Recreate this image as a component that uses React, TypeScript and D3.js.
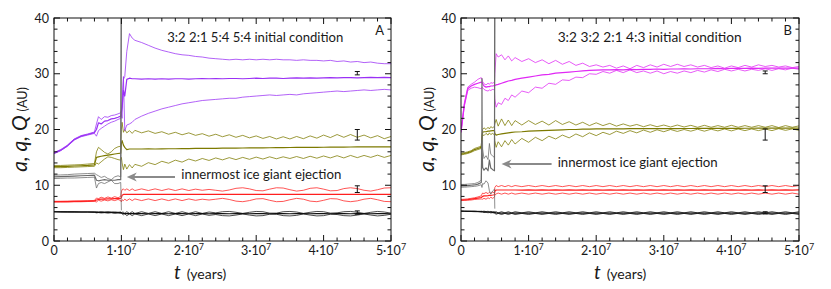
import * as d3 from 'd3';

// time axis in units of 10^6 years
const timeA = [0, 1, 2, 3, 4, 5, 6, 6.3, 6.6, 7, 7.5, 8, 8.5, 9, 9.5, 9.9, 10, 10.1, 10.3, 10.5, 10.8, 11.2, 11.6,
  12, 13, 14, 15, 16, 17, 18, 19, 20, 21, 22, 23, 24, 25, 26, 27, 28, 29, 30, 31, 32, 33, 34, 35, 36, 37, 38, 39, 40,
  41, 42, 43, 44, 45, 46, 47, 48, 49, 50];

const timeB = [0, 0.5, 1, 1.5, 2, 2.5, 3, 3.1, 3.2, 3.4, 3.7, 4, 4.2, 4.4, 4.7, 4.95, 5, 5.2, 5.5, 6, 6.5, 7, 7.5, 8,
  9, 10, 11, 12, 13, 14, 15, 16, 17, 18, 19, 20, 21, 22, 23, 24, 25, 26, 27, 28, 29, 30, 31, 32, 33, 34, 35, 36, 37,
  38, 39, 40, 41, 42, 43, 44, 45, 46, 47, 48, 49, 50];

// ---- panel A : 3:2 2:1 5:4 5:4 ----
const jupA_Q = [5.28, 5.27, 5.25, 5.24, 5.23, 5.23, 5.22, 5.25, 5.2, 5.25, 5.18, 5.24, 5.17, 5.22, 5.16, 5.2, 5.1, 5.15, 5.2, 4.95, 5.25, 4.95, 5.25,
  4.95, 5.25, 4.95, 5.25, 4.95, 5.25, 4.95, 5.25, 4.95, 5.25, 4.95, 5.2, 5.05, 5.25, 5.3, 5.15, 4.95, 5.15, 5.3, 5.25,
  5.0, 5.0, 5.25, 5.3, 5.2, 4.95, 5.15, 5.3, 5.25, 5.0, 5.05, 5.25, 5.3, 5.15, 4.95, 5.15, 5.3, 5.2, 5.0];
const jupA_a = [5.25, 5.24, 5.22, 5.21, 5.2, 5.2, 5.18, 5.15, 5.15, 5.14, 5.13, 5.12, 5.12, 5.1, 5.1, 5.08, 5.05, 5.0, 4.95, 4.92, 4.9, 4.9, 4.9,
  4.9, 4.9, 4.89, 4.9, 4.9, 4.89, 4.9, 4.9, 4.89, 4.9, 4.9, 4.89, 4.9, 4.9, 4.89, 4.9, 4.9, 4.89, 4.9, 4.9,
  4.89, 4.9, 4.9, 4.89, 4.9, 4.9, 4.89, 4.9, 4.9, 4.89, 4.9, 4.9, 4.89, 4.9, 4.9, 4.89, 4.9, 4.9, 4.89];
const jupA_q = [5.22, 5.21, 5.19, 5.18, 5.17, 5.17, 5.14, 5.05, 5.1, 5.03, 5.08, 5.0, 5.07, 4.98, 5.04, 4.96, 5.0, 4.85, 4.7, 4.89, 4.55, 4.85, 4.55,
  4.85, 4.55, 4.85, 4.55, 4.85, 4.55, 4.85, 4.55, 4.85, 4.55, 4.85, 4.6, 4.75, 4.55, 4.5, 4.65, 4.85, 4.65, 4.5, 4.55,
  4.8, 4.8, 4.55, 4.5, 4.6, 4.85, 4.65, 4.5, 4.55, 4.8, 4.75, 4.55, 4.5, 4.65, 4.85, 4.65, 4.5, 4.6, 4.8];

const satA_Q = [7.12, 7.13, 7.15, 7.17, 7.2, 7.22, 7.28, 7.7, 7.6, 7.85, 7.65, 7.9, 7.7, 7.95, 7.75, 8.0, 8.8, 9.2, 9.35, 9.1, 9.35, 9.05, 9.35,
  9.05, 9.35, 9.05, 9.35, 9.05, 9.35, 9.05, 9.35, 9.05, 9.3, 9.1, 9.25, 9.1, 8.95, 9.15, 9.45, 9.55, 9.35, 9.05, 9.0,
  9.3, 9.55, 9.5, 9.2, 8.95, 9.1, 9.45, 9.55, 9.3, 9.0, 9.05, 9.4, 9.55, 9.4, 9.1, 8.95, 9.2, 9.5, 9.55];
const satA_a = [7.05, 7.07, 7.08, 7.1, 7.12, 7.15, 7.2, 7.35, 7.45, 7.5, 7.5, 7.55, 7.55, 7.6, 7.6, 7.62, 7.8, 8.2, 8.35, 8.35, 8.35, 8.35, 8.35,
  8.35, 8.36, 8.35, 8.36, 8.35, 8.36, 8.35, 8.36, 8.35, 8.36, 8.35, 8.36, 8.35, 8.36, 8.35, 8.36, 8.35, 8.36, 8.35, 8.36,
  8.35, 8.36, 8.35, 8.36, 8.35, 8.36, 8.35, 8.36, 8.35, 8.36, 8.35, 8.36, 8.35, 8.36, 8.35, 8.36, 8.35, 8.36, 8.35];
const satA_q = [6.98, 7.0, 7.01, 7.03, 7.04, 7.08, 7.12, 7.0, 7.3, 7.15, 7.35, 7.2, 7.4, 7.25, 7.45, 7.25, 7.0, 7.4, 7.25, 7.5, 7.25, 7.55, 7.25,
  7.55, 7.25, 7.55, 7.25, 7.55, 7.25, 7.55, 7.25, 7.55, 7.3, 7.5, 7.35, 7.5, 7.65, 7.45, 7.15, 7.05, 7.25, 7.55, 7.6,
  7.3, 7.05, 7.1, 7.4, 7.65, 7.5, 7.15, 7.05, 7.3, 7.6, 7.55, 7.2, 7.05, 7.2, 7.5, 7.65, 7.4, 7.1, 7.05];

// ejected ice giant: data stops at 1e7 yr
const ejA_Q = [11.8, 11.85, 11.9, 12.0, 12.05, 12.1, 12.15, 11.9, 11.7, 11.4, 11.6, 11.2, 11.0, 11.5, 11.7, 11.5, 48];
const ejA_a = [11.5, 11.55, 11.6, 11.65, 11.7, 11.75, 11.8, 10.9, 10.8, 10.9, 11.0, 10.9, 10.9, 10.9, 11.0, 11.0, 48];
const ejA_q = [11.2, 11.25, 11.3, 11.3, 11.35, 11.4, 11.45, 9.5, 10.3, 10.5, 10.3, 10.6, 10.9, 10.3, 10.3, 10.5, 5.5];

const igA_Q = [13.55, 13.55, 13.6, 13.65, 13.7, 13.8, 13.9, 16.0, 16.8, 16.4, 15.9, 15.6, 16.0, 16.6, 16.9, 17.0, 20.0, 21.3, 19.5, 20.0, 19.4, 19.8, 19.3,
  19.85, 19.4, 19.75, 19.3, 19.6, 19.15, 19.5, 19.05, 19.4, 18.95, 19.25, 18.8, 19.15, 18.7, 19.05, 18.6, 18.95, 18.5, 18.85, 18.4,
  18.75, 18.3, 18.7, 18.3, 18.75, 18.35, 18.85, 18.45, 19.0, 18.55, 19.1, 18.6, 19.1, 18.6, 19.0, 18.5, 18.9, 18.35, 18.75];
const igA_a = [13.35, 13.35, 13.4, 13.45, 13.5, 13.55, 13.65, 15.0, 15.1, 15.2, 15.3, 15.4, 15.5, 15.6, 15.7, 15.75, 17.5, 18.0, 17.2, 16.8, 16.4, 16.5, 16.5,
  16.5, 16.5, 16.52, 16.5, 16.52, 16.55, 16.55, 16.57, 16.58, 16.6, 16.6, 16.62, 16.63, 16.65, 16.65, 16.67, 16.68, 16.7, 16.7, 16.72,
  16.73, 16.75, 16.75, 16.77, 16.78, 16.8, 16.8, 16.81, 16.82, 16.83, 16.84, 16.85, 16.86, 16.87, 16.88, 16.88, 16.89, 16.9, 16.9];
const igA_q = [13.15, 13.15, 13.2, 13.25, 13.3, 13.35, 13.4, 14.0, 13.8, 14.2, 14.7, 15.1, 15.0, 14.8, 14.6, 14.5, 15.0, 14.0, 12.8, 13.8, 12.9, 13.7, 13.1,
  13.75, 13.4, 14.05, 13.7, 14.3, 13.95, 14.5, 14.15, 14.7, 14.35, 14.8, 14.45, 14.9, 14.55, 14.95, 14.6, 15.0, 14.65, 15.05, 14.7,
  15.1, 14.75, 15.1, 14.8, 15.15, 14.8, 15.2, 14.85, 15.25, 14.9, 15.3, 14.9, 15.35, 14.95, 15.35, 15.0, 15.4, 15.0, 15.35];

const outA_Q = [15.85, 16.4, 17.2, 18.3, 18.9, 19.2, 19.55, 21.0, 22.3, 21.8, 22.3, 22.2, 22.5, 22.6, 22.8, 23.0, 23.5, 25.0, 29.0, 29.5, 34.0, 37.2, 36.4,
  36.0, 35.6, 35.1, 34.6, 34.2, 33.9, 33.6, 33.4, 33.3, 33.1, 33.0, 32.8, 32.7, 32.6, 32.5, 32.6, 32.5, 32.6, 32.5, 32.6,
  32.5, 32.6, 32.5, 32.5, 32.4, 32.5, 32.4, 32.4, 32.3, 32.4, 32.2, 32.3, 32.1, 32.2, 32.0, 32.1, 31.9, 31.8, 31.8];
const outA_a = [15.75, 16.3, 17.1, 18.2, 18.8, 19.1, 19.45, 20.0, 21.2, 21.0, 21.5, 21.6, 21.9, 22.0, 22.2, 22.4, 23.2, 24.0, 27.0, 26.0, 29.0, 29.2, 29.1,
  29.1, 29.05, 29.1, 29.05, 29.1, 29.05, 29.1, 29.1, 29.05, 29.1, 29.15, 29.1, 29.15, 29.1, 29.15, 29.15, 29.1, 29.15, 29.2, 29.15,
  29.2, 29.2, 29.15, 29.2, 29.25, 29.2, 29.25, 29.2, 29.25, 29.3, 29.25, 29.3, 29.3, 29.25, 29.3, 29.35, 29.3, 29.35, 29.3];
const outA_q = [15.65, 16.2, 17.0, 18.1, 18.7, 19.0, 19.3, 18.8, 19.8, 20.2, 20.6, 21.0, 21.3, 21.5, 21.8, 22.0, 23.0, 22.0, 29.5, 19.8, 20.8, 21.0, 21.3,
  21.8, 22.4, 22.9, 23.3, 23.7, 24.0, 24.3, 24.6, 24.8, 25.0, 25.2, 25.3, 25.4, 25.5, 25.6, 25.6, 25.8, 25.9, 26.0, 26.1,
  26.2, 26.1, 26.2, 26.3, 26.2, 26.4, 26.5, 26.6, 26.7, 26.8, 26.9, 26.8, 26.9, 27.0, 27.1, 27.0, 27.1, 27.2, 27.1];

// ---- panel B : 3:2 3:2 2:1 4:3 ----
const jupB_Q = [5.38, 5.37, 5.36, 5.35, 5.34, 5.33, 5.32, 5.36, 5.3, 5.35, 5.28, 5.33, 5.25, 5.3, 5.22, 5.25, 5.2, 5.25, 5.05, 5.25, 5.05, 5.25, 5.05, 5.25,
  5.05, 5.25, 5.05, 5.25, 5.05, 5.25, 5.05, 5.25, 5.05, 5.25, 5.05, 5.25, 5.05, 5.25, 5.05, 5.25, 5.05, 5.25, 5.05, 5.25, 5.05,
  5.25, 5.05, 5.25, 5.05, 5.25, 5.05, 5.25, 5.05, 5.25, 5.05, 5.25, 5.05, 5.25, 5.05, 5.25, 5.05, 5.25, 5.05, 5.25, 5.05, 5.25];
const jupB_a = [5.35, 5.34, 5.33, 5.32, 5.3, 5.29, 5.27, 5.26, 5.25, 5.23, 5.21, 5.2, 5.18, 5.17, 5.15, 5.12, 5.08, 5.03, 5.0, 5.0, 4.99, 5.0, 4.99, 5.0,
  4.99, 5.0, 4.99, 5.0, 4.99, 5.0, 4.99, 5.0, 4.99, 5.0, 4.99, 5.0, 4.99, 5.0, 4.99, 5.0, 4.99, 5.0, 4.99, 5.0, 4.99,
  5.0, 4.99, 5.0, 4.99, 5.0, 4.99, 5.0, 4.99, 5.0, 4.99, 5.0, 4.99, 5.0, 4.99, 5.0, 4.99, 5.0, 4.99, 5.0, 4.99, 5.0];
const jupB_q = [5.32, 5.31, 5.3, 5.29, 5.26, 5.25, 5.22, 5.16, 5.2, 5.11, 5.14, 5.07, 5.11, 5.04, 5.08, 4.99, 4.96, 4.8, 4.95, 4.75, 4.95, 4.75, 4.95, 4.75,
  4.95, 4.75, 4.95, 4.75, 4.95, 4.75, 4.95, 4.75, 4.95, 4.75, 4.95, 4.75, 4.95, 4.75, 4.95, 4.75, 4.95, 4.75, 4.95, 4.75, 4.95,
  4.75, 4.95, 4.75, 4.95, 4.75, 4.95, 4.75, 4.95, 4.75, 4.95, 4.75, 4.95, 4.75, 4.95, 4.75, 4.95, 4.75, 4.95, 4.75, 4.95, 4.75];

const satB_Q = [7.45, 7.5, 7.55, 7.65, 7.75, 7.9, 8.1, 8.4, 8.6, 8.5, 8.7, 8.5, 8.75, 8.55, 8.8, 8.6, 9.6, 9.95, 9.75, 9.95, 9.75, 9.95, 9.75, 9.95,
  9.75, 9.95, 9.75, 9.95, 9.75, 9.95, 9.75, 9.95, 9.75, 9.95, 9.75, 9.95, 9.75, 9.95, 9.75, 9.95, 9.75, 9.95, 9.75, 9.95, 9.75,
  9.95, 9.75, 9.95, 9.75, 9.95, 9.75, 9.95, 9.75, 9.95, 9.75, 9.95, 9.75, 9.95, 9.75, 9.95, 9.75, 9.95, 9.75, 9.95, 9.75, 9.95];
const satB_a = [7.35, 7.38, 7.42, 7.5, 7.6, 7.7, 7.8, 7.9, 8.0, 8.1, 8.1, 8.15, 8.2, 8.2, 8.25, 8.3, 8.9, 9.15, 9.15, 9.15, 9.15, 9.15, 9.15, 9.15,
  9.14, 9.16, 9.14, 9.16, 9.14, 9.16, 9.14, 9.16, 9.14, 9.16, 9.14, 9.16, 9.14, 9.16, 9.14, 9.16, 9.14, 9.16, 9.14, 9.16, 9.14,
  9.16, 9.14, 9.16, 9.14, 9.16, 9.14, 9.16, 9.14, 9.16, 9.14, 9.16, 9.14, 9.16, 9.14, 9.16, 9.14, 9.16, 9.14, 9.16, 9.14, 9.16];
const satB_q = [7.25, 7.28, 7.33, 7.35, 7.45, 7.5, 7.55, 7.5, 7.5, 7.65, 7.5, 7.75, 7.6, 7.85, 7.65, 7.9, 8.2, 8.45, 8.6, 8.4, 8.6, 8.4, 8.6, 8.4,
  8.6, 8.4, 8.6, 8.4, 8.6, 8.4, 8.6, 8.4, 8.6, 8.4, 8.6, 8.4, 8.6, 8.4, 8.6, 8.4, 8.6, 8.4, 8.6, 8.4, 8.6,
  8.4, 8.6, 8.4, 8.6, 8.4, 8.6, 8.4, 8.6, 8.4, 8.6, 8.4, 8.6, 8.4, 8.6, 8.4, 8.6, 8.4, 8.6, 8.4, 8.6, 8.4];

const ejB_Q = [10.15, 10.15, 10.2, 10.25, 10.3, 10.5, 10.9, 29.2, 16.5, 14.8, 15.3, 14.6, 17.5, 15.6, 15.2, 15.0, 48];
const ejB_a = [9.9, 9.9, 9.95, 10.0, 10.05, 10.2, 10.5, 18.0, 13.2, 12.7, 13.1, 12.6, 14.5, 13.1, 12.8, 12.6, 48];
const ejB_q = [9.65, 9.65, 9.7, 9.75, 9.8, 9.9, 10.1, 9.6, 10.3, 10.2, 10.8, 10.4, 9.0, 8.4, 9.0, 9.3, 5.8];

const igB_Q = [15.75, 15.85, 16.0, 16.2, 16.6, 16.8, 17.0, 19.0, 20.0, 20.3, 20.0, 20.4, 20.1, 20.5, 20.3, 20.6, 21.0, 21.8, 20.6, 21.9, 20.7, 21.7, 20.7, 21.6,
  20.8, 21.6, 20.9, 21.5, 20.8, 21.6, 20.9, 21.4, 20.8, 21.3, 20.7, 21.2, 20.7, 21.1, 20.6, 21.0, 20.6, 20.9, 20.5, 20.85,
  20.5, 20.8, 20.45, 20.8, 20.45, 20.75, 20.4, 20.75, 20.4, 20.7, 20.4, 20.75, 20.4, 20.7, 20.4, 20.7, 20.4, 20.7, 20.35, 20.7, 20.4, 20.65];
const igB_a = [15.6, 15.7, 15.85, 16.05, 16.4, 16.6, 16.8, 18.5, 19.5, 19.6, 19.6, 19.7, 19.7, 19.75, 19.8, 19.8, 19.3, 19.0, 19.1, 19.2, 19.3, 19.4, 19.5, 19.55,
  19.6, 19.7, 19.75, 19.8, 19.85, 19.9, 19.95, 20.0, 20.0, 20.05, 20.05, 20.1, 20.1, 20.1, 20.12, 20.12, 20.14, 20.14, 20.15, 20.15,
  20.16, 20.16, 20.17, 20.17, 20.18, 20.18, 20.19, 20.19, 20.2, 20.2, 20.2, 20.21, 20.21, 20.22, 20.22, 20.23, 20.23, 20.24, 20.24, 20.25, 20.25, 20.25];
const igB_q = [15.45, 15.55, 15.7, 15.9, 16.2, 16.4, 16.6, 18.2, 19.1, 18.9, 19.3, 19.0, 19.4, 19.1, 19.3, 19.0, 18.0, 16.8, 17.8, 16.9, 18.0, 17.2, 18.2, 17.4,
  18.4, 17.7, 18.6, 18.0, 18.8, 18.3, 19.0, 18.5, 19.2, 18.7, 19.4, 18.9, 19.5, 19.1, 19.7, 19.3, 19.8, 19.4, 19.9, 19.5,
  19.95, 19.6, 20.0, 19.65, 20.0, 19.7, 20.05, 19.7, 20.05, 19.75, 20.1, 19.75, 20.1, 19.8, 20.1, 19.8, 20.1, 19.8, 20.15, 19.85, 20.1, 19.85];

const outB_Q = [19.8, 24.8, 27.6, 28.1, 28.5, 29.0, 29.3, 29.0, 28.6, 28.2, 28.0, 28.3, 28.1, 28.4, 28.3, 28.5, 30.0, 33.6, 33.0, 33.4, 32.5, 33.2, 32.3, 32.9,
  32.2, 32.7, 32.0, 32.5, 31.8, 32.4, 31.7, 32.2, 31.5, 31.9, 31.3, 31.6, 31.2, 31.5, 31.0, 31.4, 30.9, 31.5, 31.1, 31.6,
  31.2, 31.7, 31.3, 31.7, 31.3, 31.6, 31.2, 31.5, 31.1, 31.4, 31.0, 31.4, 31.1, 31.5, 31.2, 31.6, 31.3, 31.5, 31.2, 31.4, 31.1, 31.3];
const outB_a = [19.6, 24.5, 27.3, 27.8, 28.1, 28.3, 28.5, 28.5, 28.2, 27.8, 27.6, 27.7, 27.7, 27.8, 27.8, 27.9, 27.9, 28.0, 28.1, 28.3, 28.5, 28.7, 28.8, 29.0,
  29.2, 29.4, 29.6, 29.8, 29.9, 30.1, 30.2, 30.3, 30.4, 30.5, 30.6, 30.65, 30.7, 30.7, 30.75, 30.7, 30.8, 30.75, 30.8, 30.8,
  30.85, 30.8, 30.85, 30.85, 30.9, 30.85, 30.9, 30.9, 30.9, 30.95, 30.9, 30.95, 30.95, 30.95, 31.0, 30.95, 31.0, 31.0, 31.0, 31.0, 31.0, 31.0];
const outB_q = [19.4, 24.2, 27.0, 27.4, 27.6, 27.5, 27.3, 27.6, 27.5, 27.2, 27.0, 26.9, 27.1, 27.0, 27.2, 27.1, 25.5, 24.0, 24.8, 24.5, 25.6, 25.2, 26.2, 25.8,
  26.9, 26.6, 27.6, 27.4, 28.3, 28.1, 28.9, 28.8, 29.4, 29.3, 30.0, 29.9, 30.4, 30.1, 30.6, 30.2, 30.7, 30.2, 30.5, 30.1,
  30.5, 30.0, 30.4, 30.1, 30.5, 30.2, 30.6, 30.3, 30.7, 30.4, 30.8, 30.5, 30.8, 30.5, 30.8, 30.6, 30.9, 30.6, 30.9, 30.7, 31.0, 30.8];

// error bars at t = 4.5e7 yr
const errTime = 45;
const errValueA = [30.1, 19.05, 9.3, 5.1];
const errSizeA = [0.3, 0.95, 0.6, 0.3];
const errValueB = [30.25, 19.1, 9.3, 5.05];
const errSizeB = [0.25, 1.0, 0.6, 0.2];

const xMajor = [0, 10, 20, 30, 40, 50];
const yMajor = [0, 10, 20, 30, 40];

const BLACK = '#111111';
const RED = '#ff1f1f';
const GREY = '#6a6a6a';
const OLIVE = '#7d7a00';
const VIOLET = '#9a30f5';
const MAGENTA = '#e028f5';

interface Series { t: number[]; v: number[]; color: string; main?: boolean }

interface PanelProps {
  id: string;
  left: number;
  right: number;
  series: Series[];
  errValue: number[];
  errSize: number[];
  letter: string;
  title: string;
  titleT: number;
  titleWidth: number;
  arrow: [number, number, number];
  noteT: number;
  noteY: number;
  xTitleAt: number;
}

const TOP = 18;
const BOTTOM = 241;

function Panel(p: PanelProps) {
  const x = d3.scaleLinear().domain([0, 50]).range([p.left, p.right]);
  const y = d3.scaleLinear().domain([0, 40]).range([BOTTOM, TOP]);
  const line = d3.line<[number, number]>().x((d) => x(d[0])).y((d) => y(d[1]));
  const xMinor = d3.range(0, 51, 2);
  const yMinor = d3.range(0, 41, 2);

  const ticks: JSX.Element[] = [];
  xMinor.forEach((t, i) => {
    const len = t % 10 === 0 ? 6 : 3.5;
    ticks.push(<line key={'xb' + i} x1={x(t)} x2={x(t)} y1={BOTTOM} y2={BOTTOM - len} />);
    ticks.push(<line key={'xt' + i} x1={x(t)} x2={x(t)} y1={TOP} y2={TOP + len} />);
  });
  yMinor.forEach((v, i) => {
    const len = v % 10 === 0 ? 6 : 3.5;
    ticks.push(<line key={'yl' + i} x1={p.left} x2={p.left + len} y1={y(v)} y2={y(v)} />);
    ticks.push(<line key={'yr' + i} x1={p.right} x2={p.right - len} y1={y(v)} y2={y(v)} />);
  });

  const [a0, a1, ay] = p.arrow;

  return (
    <g>
      <defs>
        <clipPath id={'clip' + p.id}>
          <rect x={p.left} y={TOP} width={p.right - p.left} height={BOTTOM - TOP} />
        </clipPath>
      </defs>
      <g clipPath={`url(#clip${p.id})`} fill="none" strokeLinejoin="round">
        {p.series.map((s, i) => (
          <path
            key={i}
            d={line(s.t.map((t, j) => [t, s.v[j]] as [number, number])) ?? ''}
            stroke={s.color}
            strokeWidth={s.main ? 1.2 : 0.85}
            strokeOpacity={s.main ? 1 : 0.9}
          />
        ))}
      </g>
      {/* error bars */}
      <g stroke={BLACK} strokeWidth={1}>
        {p.errValue.map((v, i) => (
          <g key={i}>
            <line x1={x(errTime)} x2={x(errTime)} y1={y(v - p.errSize[i])} y2={y(v + p.errSize[i])} />
            <line x1={x(errTime) - 2.5} x2={x(errTime) + 2.5} y1={y(v - p.errSize[i])} y2={y(v - p.errSize[i])} />
            <line x1={x(errTime) - 2.5} x2={x(errTime) + 2.5} y1={y(v + p.errSize[i])} y2={y(v + p.errSize[i])} />
          </g>
        ))}
      </g>
      <rect x={p.left} y={TOP} width={p.right - p.left} height={BOTTOM - TOP} fill="none" stroke={BLACK} strokeWidth={1} />
      <g stroke={BLACK} strokeWidth={1}>{ticks}</g>
      {/* tick labels */}
      <g fontSize={12.5} fill="#1a1a1a">
        {yMajor.map((v) => (
          <text key={v} x={p.left - 5} y={y(v) + 4.5} textAnchor="end">{v}</text>
        ))}
        {xMajor.map((t) => (
          <text key={t} x={x(t)} y={255} textAnchor="middle">
            {t === 0 ? '0' : (
              <>
                {`${t / 10}·10`}
                <tspan fontSize={9} dy={-5}>7</tspan>
              </>
            )}
          </text>
        ))}
      </g>
      {/* axis titles */}
      <text transform={`translate(${p.left - 27},${(TOP + BOTTOM) / 2}) rotate(-90)`} textAnchor="middle" fill="#1a1a1a">
        <tspan fontStyle="italic" fontSize={21}>a, q, Q</tspan>
        <tspan fontSize={12.5} dx={4}>(AU)</tspan>
      </text>
      <text x={p.xTitleAt} y={279} fill="#1a1a1a">
        <tspan fontStyle="italic" fontSize={19}>t</tspan>
        <tspan fontSize={14} dx={6}>(years)</tspan>
      </text>
      {/* annotations */}
      <text x={x(p.titleT)} y={42} fontSize={13} fill="#1a1a1a" textLength={p.titleWidth} lengthAdjust="spacingAndGlyphs">
        {p.title}
      </text>
      <text x={p.right - 7} y={35} fontSize={13} textAnchor="end" fill="#1a1a1a">{p.letter}</text>
      <line x1={x(a0)} x2={x(a1) + 6} y1={y(ay)} y2={y(ay)} stroke="#8a8a8a" strokeWidth={2} />
      <path
        d={`M${x(a1)},${y(ay)} L${x(a1) + 10},${y(ay) - 4.5} L${x(a1) + 7},${y(ay)} L${x(a1) + 10},${y(ay) + 4.5} Z`}
        fill="#8a8a8a"
      />
      <text x={x(p.noteT)} y={y(p.noteY)} fontSize={13} fill="#1a1a1a" textLength={160} lengthAdjust="spacingAndGlyphs">
        innermost ice giant ejection
      </text>
    </g>
  );
}

const ejTimeA = timeA.slice(0, ejA_Q.length);
const ejTimeB = timeB.slice(0, ejB_Q.length);

const seriesA: Series[] = [
  { t: timeA, v: jupA_Q, color: BLACK }, { t: timeA, v: jupA_q, color: BLACK }, { t: timeA, v: jupA_a, color: BLACK, main: true },
  { t: timeA, v: satA_Q, color: RED }, { t: timeA, v: satA_q, color: RED }, { t: timeA, v: satA_a, color: RED, main: true },
  { t: timeA, v: igA_Q, color: OLIVE }, { t: timeA, v: igA_q, color: OLIVE }, { t: timeA, v: igA_a, color: OLIVE, main: true },
  { t: timeA, v: outA_Q, color: VIOLET }, { t: timeA, v: outA_q, color: VIOLET }, { t: timeA, v: outA_a, color: VIOLET, main: true },
  { t: ejTimeA, v: ejA_Q, color: GREY }, { t: ejTimeA, v: ejA_q, color: GREY }, { t: ejTimeA, v: ejA_a, color: GREY, main: true },
];

const seriesB: Series[] = [
  { t: timeB, v: jupB_Q, color: BLACK }, { t: timeB, v: jupB_q, color: BLACK }, { t: timeB, v: jupB_a, color: BLACK, main: true },
  { t: timeB, v: satB_Q, color: RED }, { t: timeB, v: satB_q, color: RED }, { t: timeB, v: satB_a, color: RED, main: true },
  { t: timeB, v: igB_Q, color: OLIVE }, { t: timeB, v: igB_q, color: OLIVE }, { t: timeB, v: igB_a, color: OLIVE, main: true },
  { t: timeB, v: outB_Q, color: MAGENTA }, { t: timeB, v: outB_q, color: MAGENTA }, { t: timeB, v: outB_a, color: MAGENTA, main: true },
  { t: ejTimeB, v: ejB_Q, color: GREY }, { t: ejTimeB, v: ejB_q, color: GREY }, { t: ejTimeB, v: ejB_a, color: GREY, main: true },
];

export default function App() {
  return (
    <svg
      width={831}
      height={289}
      style={{ position: 'absolute', left: 0, top: 0, background: '#fff' }}
      fontFamily="Lato, 'Open Sans', sans-serif"
    >
      <Panel
        id="A" left={54} right={391} series={seriesA} errValue={errValueA} errSize={errSizeA}
        letter="A" title="3:2 2:1 5:4 5:4 initial condition" titleT={16.8} titleWidth={176}
        arrow={[17.95, 10.8, 11.5]} noteT={18.9} noteY={11.1} xTitleAt={174}
      />
      <Panel
        id="B" left={461} right={799} series={seriesB} errValue={errValueB} errSize={errSizeB}
        letter="B" title="3:2 3:2 2:1 4:3 initial condition" titleT={14.3} titleWidth={184}
        arrow={[13.4, 6.0, 13.8]} noteT={14.3} noteY={13.2} xTitleAt={594}
      />
    </svg>
  );
}
